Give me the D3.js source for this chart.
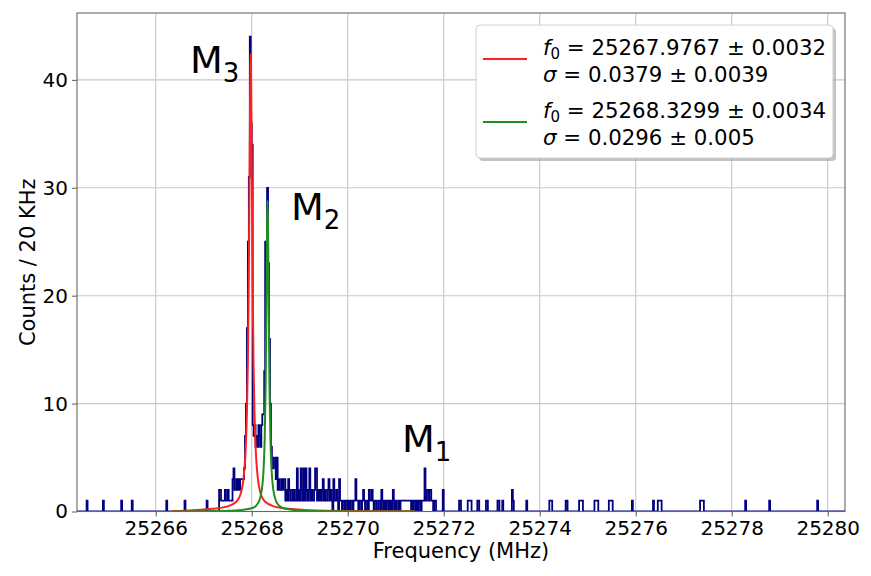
<!DOCTYPE html>
<html>
<head>
<meta charset="utf-8">
<script src="https://cdn.jsdelivr.net/npm/d3@7"></script>
<style>
body { margin: 0; background: #fff; }
text { font-family: "DejaVu Sans", sans-serif; fill: #000; }
</style>
</head>
<body>
<div id="chart"></div>
<script>
// histogram: 20 kHz bins over the plotted range
var binWidth = 0.02;
var histRange = [25264.36, 25280.36];

// isolated bins outside the main cluster (left edge in MHz, counts)
var sparseFreq = [25264.56, 25264.90, 25265.28, 25265.50, 25266.22, 25266.60,
    25272.32, 25272.34, 25272.50, 25272.52, 25272.54, 25272.56, 25272.70, 25272.72,
    25272.88, 25272.90, 25273.12, 25273.14, 25273.22, 25273.42, 25273.44, 25273.72,
    25274.20, 25274.22, 25274.24, 25274.54, 25274.56, 25274.82, 25274.84, 25274.86, 25274.88,
    25275.14, 25275.16, 25275.18, 25275.20, 25275.44, 25275.46, 25275.48, 25275.50,
    25275.92, 25276.36, 25276.46, 25276.48, 25276.50, 25276.52,
    25277.34, 25277.36, 25277.38, 25277.40, 25278.28, 25278.78, 25279.78];
var sparseCount = [1, 1, 1, 1, 1, 1,
    1, 1, 1, 1, 1, 1, 1, 1,
    1, 1, 1, 1, 1, 2, 1, 1,
    1, 1, 1, 1, 1, 1, 1, 1, 1,
    1, 1, 1, 1, 1, 1, 1, 1,
    1, 1, 1, 1, 1, 1,
    1, 1, 1, 1, 1, 1, 1];

// main cluster, consecutive bins starting at 25267.00 MHz
var denseStart = 25267.00;
var denseCount = [
    0,0,0,1,0,0,0,0,0,0,0,0,0,0,0,0,2,2,1,1,1,1,2,1,1,
    2,1,1,1,1,3,4,2,2,3,2,3,2,3,3,3,3,4,7,10,17,25,31,44,36,
    34,8,7,8,6,7,6,8,7,6,8,9,9,13,25,24,30,23,16,10,6,4,4,5,5,
    3,5,2,3,2,2,3,2,3,3,1,2,1,3,2,1,1,2,1,2,1,1,4,1,2,
    1,4,2,1,4,1,4,2,1,2,4,1,2,1,1,2,4,4,1,2,1,2,1,2,3,
    1,2,1,1,2,3,1,2,1,0,3,1,1,2,1,0,3,1,1,0,1,1,0,1,1,
    0,1,0,1,1,0,1,1,3,1,1,0,1,1,0,1,2,1,0,1,1,0,2,1,1,
    2,1,0,1,1,0,0,1,1,0,2,1,0,1,0,1,1,0,1,0,1,0,2,1,0,
    1,0,0,1,0,1,1,1,1,1,1,1,1,1,1,1,0,1,0,1,1,0,1,0,1,
    1,0,1,1,1,4,1,2,2,1,2,2,1,1,0,1,1,0,0,0,0,0,0,0,2,
    0];

// fitted line shapes
var redFreq = [25266.35, 25266.78, 25267.18, 25267.48, 25267.68, 25267.78, 25267.83, 25267.88,
    25267.90, 25267.92, 25267.94, 25267.95, 25267.96, 25267.97, 25267.977, 25267.987,
    25267.997, 25268.007, 25268.017, 25268.037, 25268.057, 25268.077, 25268.127, 25268.177,
    25268.28, 25268.48, 25268.78, 25269.18, 25269.98, 25271.40];
var redVal = [0.04, 0.12, 0.25, 0.45, 0.9, 1.8, 3.1, 6.4,
    9.2, 13.9, 22.2, 28.1, 34.6, 40.1, 42.4, 40.1,
    34.6, 28.1, 22.2, 13.9, 9.2, 6.4, 3.1, 1.8,
    0.9, 0.45, 0.25, 0.12, 0.05, 0.02];
var greenFreq = [25266.35, 25267.13, 25267.53, 25267.83, 25268.03, 25268.13, 25268.18, 25268.23,
    25268.25, 25268.27, 25268.29, 25268.30, 25268.31, 25268.32, 25268.33, 25268.34,
    25268.35, 25268.36, 25268.37, 25268.39, 25268.41, 25268.43, 25268.48, 25268.53,
    25268.63, 25268.83, 25269.13, 25269.53, 25270.33, 25271.40];
var greenVal = [0.01, 0.03, 0.07, 0.16, 0.35, 0.76, 1.33, 2.8,
    4.2, 6.7, 11.7, 15.8, 21.1, 26.4, 28.8, 26.4,
    21.1, 15.8, 11.7, 6.7, 4.2, 2.8, 1.33, 0.76,
    0.35, 0.16, 0.07, 0.03, 0.01, 0.005];

var xTicks = [25266, 25268, 25270, 25272, 25274, 25276, 25278, 25280];
var yTicks = [0, 10, 20, 30, 40];
var yMax = 46.2;

var fitNames = [
    {f0: "25267.9767", df0: "0.0032", s: "0.0379", ds: "0.0039", color: "#ff2020"},
    {f0: "25268.3299", df0: "0.0034", s: "0.0296", ds: "0.005", color: "#1f8f1f"}
];

var width = 871, height = 576;
var margin = {top: 13, left: 77, right: 26, bottom: 64.5};

var svg = d3.select("#chart").append("svg")
    .attr("width", width)
    .attr("height", height);

var xScale = d3.scaleLinear()
    .domain(histRange)
    .range([margin.left, width - margin.right]);

var yScale = d3.scaleLinear()
    .domain([0, yMax])
    .range([height - margin.bottom, margin.top]);

// grid
svg.append("g").selectAll("line.gx")
    .data(xTicks).enter().append("line")
    .attr("x1", function(d) { return xScale(d); })
    .attr("x2", function(d) { return xScale(d); })
    .attr("y1", margin.top).attr("y2", height - margin.bottom)
    .attr("stroke", "#c8c8c8").attr("stroke-width", 1.1);
svg.append("g").selectAll("line.gy")
    .data(yTicks).enter().append("line")
    .attr("x1", margin.left).attr("x2", width - margin.right)
    .attr("y1", function(d) { return yScale(d); })
    .attr("y2", function(d) { return yScale(d); })
    .attr("stroke", "#c8c8c8").attr("stroke-width", 1.1);

svg.append("clipPath").attr("id", "clip")
    .append("rect")
    .attr("x", margin.left).attr("y", margin.top)
    .attr("width", width - margin.left - margin.right)
    .attr("height", height - margin.top - margin.bottom);

// fill all bins
var nBins = Math.round((histRange[1] - histRange[0]) / binWidth);
var counts = new Array(nBins).fill(0);
sparseFreq.forEach(function(f, i) {
    counts[Math.round((f - histRange[0]) / binWidth)] += sparseCount[i];
});
denseCount.forEach(function(c, i) {
    var idx = Math.round((denseStart - histRange[0]) / binWidth) + i;
    counts[idx] += c;
});

var stepPts = [[histRange[0], 0]];
counts.forEach(function(c, i) {
    var left = histRange[0] + i * binWidth;
    stepPts.push([left, c]);
    stepPts.push([left + binWidth, c]);
});
stepPts.push([histRange[1], 0]);

var line = d3.line()
    .x(function(d) { return xScale(d[0]); })
    .y(function(d) { return yScale(d[1]); });

var plot = svg.append("g").attr("clip-path", "url(#clip)");

plot.append("path")
    .attr("d", line(stepPts))
    .attr("fill", "none")
    .attr("stroke", "#000080")
    .attr("stroke-width", 1.8)
    .attr("stroke-linejoin", "miter");

var smooth = d3.line()
    .x(function(d) { return xScale(d[0]); })
    .y(function(d) { return yScale(d[1]); })
    .curve(d3.curveMonotoneX);

plot.append("path")
    .attr("d", smooth(redFreq.map(function(f, i) { return [f, redVal[i]]; })))
    .attr("fill", "none")
    .attr("stroke", fitNames[0].color)
    .attr("stroke-width", 2);

plot.append("path")
    .attr("d", smooth(greenFreq.map(function(f, i) { return [f, greenVal[i]]; })))
    .attr("fill", "none")
    .attr("stroke", fitNames[1].color)
    .attr("stroke-width", 2);

// axes
var xAxis = svg.append("g")
    .attr("transform", `translate(0,${height - margin.bottom})`)
    .call(d3.axisBottom(xScale).tickValues(xTicks).tickFormat(d3.format("d")).tickSize(5).tickPadding(4));
var yAxis = svg.append("g")
    .attr("transform", `translate(${margin.left},0)`)
    .call(d3.axisLeft(yScale).tickValues(yTicks).tickSize(5).tickPadding(4));

[xAxis, yAxis].forEach(function(a) {
    a.select(".domain").remove();
    a.selectAll(".tick line").attr("stroke", "#666").attr("stroke-width", 1.1);
    a.selectAll(".tick text").style("font-size", "20px").attr("fill", "#000")
        .style("font-family", "DejaVu Sans");
});

svg.append("rect")
    .attr("x", margin.left).attr("y", margin.top)
    .attr("width", width - margin.left - margin.right)
    .attr("height", height - margin.top - margin.bottom)
    .attr("fill", "none").attr("stroke", "#666").attr("stroke-width", 1.1);

svg.append("text")
    .attr("x", (margin.left + width - margin.right) / 2)
    .attr("y", 558)
    .attr("text-anchor", "middle")
    .style("font-size", "21px")
    .text("Frequency (MHz)");

svg.append("text")
    .attr("transform", "rotate(-90)")
    .attr("x", -(margin.top + height - margin.bottom) / 2)
    .attr("y", 35)
    .attr("text-anchor", "middle")
    .style("font-size", "21px")
    .text("Counts / 20 KHz");

// peak labels
var peakLabels = [
    {sub: "3", f: 25264.36 + (190 - 77) / 48, c: 40.6},
    {sub: "2", f: 25264.36 + (291 - 77) / 48, c: 27.0},
    {sub: "1", f: 25264.36 + (402 - 77) / 48, c: 5.5}
];
peakLabels.forEach(function(p) {
    var t = svg.append("text")
        .attr("x", xScale(p.f))
        .attr("y", yScale(p.c))
        .style("font-size", "38px");
    t.append("tspan").text("M");
    t.append("tspan").attr("dy", 9).style("font-size", "26px").text(p.sub);
});

// legend
var lg = svg.append("g");
lg.append("rect")
    .attr("x", 479).attr("y", 28).attr("width", 357).attr("height", 133)
    .attr("rx", 4).attr("fill", "#888").attr("opacity", 0.5);
lg.append("rect")
    .attr("x", 476).attr("y", 25).attr("width", 357).attr("height", 133)
    .attr("rx", 4).attr("fill", "#fff").attr("stroke", "#d0d0d0");

fitNames.forEach(function(d, i) {
    var y0 = 55 + i * 63;
    lg.append("line")
        .attr("x1", 483).attr("x2", 527)
        .attr("y1", y0 + 4).attr("y2", y0 + 4)
        .attr("stroke", d.color).attr("stroke-width", 2);
    var t1 = lg.append("text").attr("x", 543).attr("y", y0).style("font-size", "21.3px");
    t1.append("tspan").style("font-style", "italic").text("f");
    t1.append("tspan").attr("dy", 4).style("font-size", "15px").text("0");
    t1.append("tspan").attr("dy", -4).text(" = " + d.f0 + " \u00b1 " + d.df0);
    var t2 = lg.append("text").attr("x", 543).attr("y", y0 + 26.5).style("font-size", "21.3px");
    t2.append("tspan").style("font-style", "italic").text("\u03c3");
    t2.append("tspan").text(" = " + d.s + " \u00b1 " + d.ds);
});
</script>
</body>
</html>
